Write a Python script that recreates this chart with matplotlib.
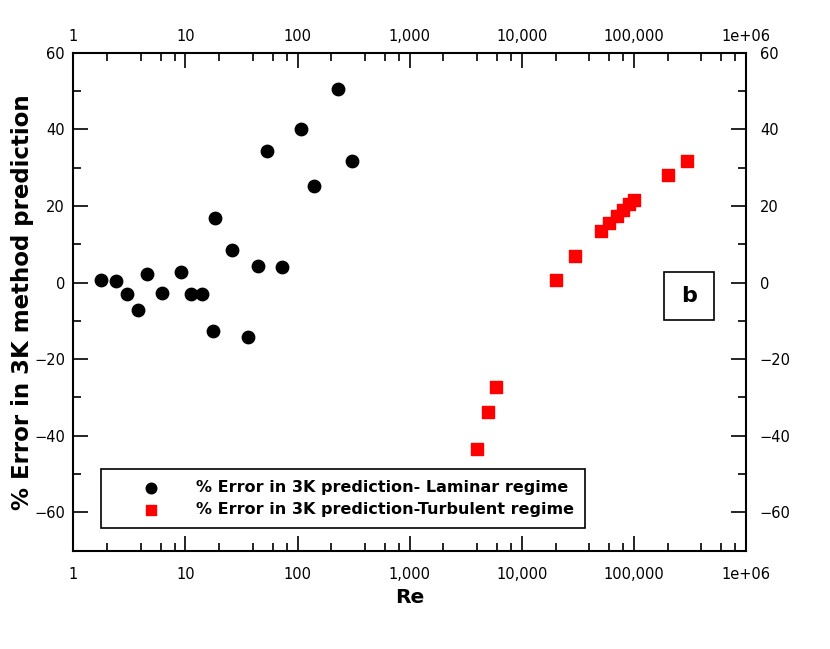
import matplotlib
matplotlib.use("Agg")
import matplotlib.pyplot as plt
from matplotlib.ticker import FixedLocator, LogLocator, FuncFormatter, MultipleLocator, NullFormatter
from matplotlib.patches import Rectangle

# laminar regime points
re_lam = [1.77, 2.40, 3.0, 3.77, 4.59, 6.2, 9.16, 11.2, 14.2, 17.7,
          18.3, 26.1, 36.5, 44.2, 53.9, 72.8, 107.5, 139.4, 229.6, 308.5]
err_lam = [0.7, 0.3, -3.1, -7.2, 2.3, -2.7, 2.7, -3.1, -3.1, -12.7,
           16.8, 8.6, -14.2, 4.3, 34.4, 4.0, 40.1, 25.2, 50.5, 31.8]

# turbulent regime points
re_turb = [4010, 5030, 5930, 20000, 29700, 50400, 59400, 70000, 79600,
           90100, 99800, 199500, 296000]
err_turb = [-43.4, -33.9, -27.2, 0.7, 6.8, 13.5, 15.6, 17.3, 19.0,
            20.6, 21.5, 28.1, 31.8]

lab_lam = "% Error in 3K prediction- Laminar regime"
lab_turb = "% Error in 3K prediction-Turbulent regime"
x_ticks = [1, 10, 100, 1000, 10000, 100000, 1000000]
y_ticks = [-60, -40, -20, 0, 20, 40, 60]

plt.rcParams['font.family'] = ['DejaVu Sans']

def fmt(v, pos):
    if v >= 1e6:
        return "1e+06"
    return "{:,.0f}".format(v)

fig = plt.figure(figsize=(8.3, 6.49), dpi=100)
ax = fig.add_axes([0.0883, 0.1515, 0.8105, 0.7673])

ax.scatter(re_lam, err_lam, s=80, marker='o', color='black', label=lab_lam, zorder=3)
ax.scatter(re_turb, err_turb, s=75, marker='s', color='#ff0000', label=lab_turb, zorder=3)

ax.set_xscale('log')
ax.set_xlim(1, 1e6)
ax.set_ylim(-70, 60)

for sp in ax.spines.values():
    sp.set_linewidth(1.5)

ax.xaxis.set_major_locator(FixedLocator(x_ticks))
ax.xaxis.set_minor_locator(LogLocator(base=10, subs=(2, 4, 6, 8), numticks=10))
ax.xaxis.set_major_formatter(FuncFormatter(fmt))
ax.xaxis.set_minor_formatter(NullFormatter())
ax.set_yticks(y_ticks)
ax.yaxis.set_minor_locator(MultipleLocator(10))

ax.tick_params(which='both', direction='in', width=1.2, labelsize=10.5,
               top=True, right=True)
ax.tick_params(which='major', length=11)
ax.tick_params(which='minor', length=6)
ax.tick_params(axis='x', which='major', pad=12)
ax.tick_params(axis='y', which='major', pad=6)

# top and right labels with their own spacing
secx = ax.secondary_xaxis('top')
secx.xaxis.set_major_locator(FixedLocator(x_ticks))
secx.xaxis.set_minor_locator(FixedLocator([]))
secx.xaxis.set_major_formatter(FuncFormatter(fmt))
secx.tick_params(which='both', direction='in', length=0, labelsize=10.5, pad=6)
secx.spines['top'].set_visible(False)

secy = ax.secondary_yaxis('right')
secy.set_yticks(y_ticks)
secy.yaxis.set_minor_locator(FixedLocator([]))
secy.tick_params(which='both', direction='in', length=0, labelsize=10.5, pad=10)
secy.spines['right'].set_visible(False)

ax.set_xlabel("Re", fontsize=14.5, fontweight='bold', labelpad=4)
ax.set_ylabel("% Error in 3K method prediction", fontsize=16.5, fontweight='bold', labelpad=0)

leg = ax.legend(loc='lower left', bbox_to_anchor=(0.041, 0.0456), borderaxespad=0,
                fancybox=False, edgecolor='black', framealpha=1,
                prop={'weight': 'bold', 'size': 11.5},
                handlelength=4.85, handletextpad=0.4, borderpad=0.7,
                labelspacing=0.4, markerscale=0.85)
leg.get_frame().set_linewidth(1.2)

ax.add_patch(Rectangle((0.878, 0.4633), 0.0743, 0.097, transform=ax.transAxes,
                       fill=False, edgecolor='black', linewidth=1.2, zorder=4))
ax.text(0.915, 0.5117, "b", transform=ax.transAxes, ha='center', va='center',
        fontsize=16, fontweight='bold', zorder=5)

fig.savefig("out.png", dpi=100)
